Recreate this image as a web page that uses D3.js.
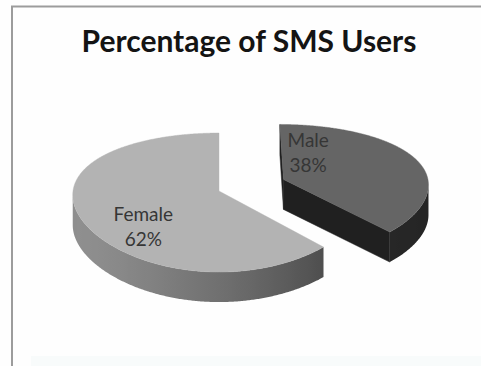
<!DOCTYPE html>
<html>
<head>
<meta charset="utf-8">
<script src="https://cdn.jsdelivr.net/npm/d3@7"></script>
<style>
  html, body { margin: 0; padding: 0; background: #ffffff; }
  svg { display: block; }
</style>
</head>
<body>
<script>
// ---- data ----
const categories = ["Male", "Female"];
const shares = [38, 62];
const chartTitle = "Percentage of SMS Users";

// ---- layout ----
const W = 481, H = 366;
const explodedCategory = "Male";
const explodeDistance = 0.48;           // in pie radii
const topColors = { Male: "#656565", Female: "#b3b3b3" };
// where each label sits, as an angle (deg, clockwise from 12) and radius fraction from the slice centre
const labelSpots = { Male: { angle: 23, r: 0.48 }, Female: { angle: 226, r: 0.70 } };

// simple perspective for a tilted disc: u = right, w = away from viewer, h = 0 top / 1 bottom
const view = { cx: 219, cy: 191, rx: 146, ry: 67.6, kx: 0.06, ky: 0.166, depth: 30 };
function project(u, w, h) {
  return [view.cx + view.rx * u / (1 + view.kx * w),
          view.cy - view.ry * w / (1 + view.ky * w) + h * view.depth];
}

const svg = d3.select("body").append("svg").attr("width", W).attr("height", H);
const defs = svg.append("defs");

// background and frame
svg.append("rect").attr("width", W).attr("height", H).attr("fill", "#fefefe");
svg.append("rect").attr("x", 31).attr("y", 356).attr("width", W - 31).attr("height", 10).attr("fill", "#f8fbfb");
svg.append("path").attr("d", `M12,${H}V6.5H${W}`)
  .attr("fill", "none").attr("stroke", "#9c9c9c").attr("stroke-width", 2);

// title
svg.append("text")
  .attr("x", 249).attr("y", 52)
  .attr("text-anchor", "middle")
  .attr("font-family", "Lato, 'Open Sans', sans-serif")
  .attr("font-weight", 700)
  .attr("font-size", 30)
  .attr("fill", "#141414")
  .text(chartTitle);

// slice angles
const pie = d3.pie().sort(null).value(d => d.value).startAngle(0).endAngle(2 * Math.PI);
const slices = pie(categories.map((c, i) => ({ category: c, value: shares[i] })));

// rim lightness of the light slice, by the outward normal angle
const lightSide = th => 97 + 43 * (-Math.sin(th)) - 15 * Math.cos(th);
function sideFill(cat, th) {
  const v = cat === "Male"
    ? Math.round(36 + 0.12 * (lightSide(th) - 54))
    : Math.round(lightSide(th));
  return d3.rgb(v, v, v).formatHex();
}

function signedArea(pts) {
  let s = 0;
  for (let i = 0; i < pts.length; i++) {
    const a = pts[i], b = pts[(i + 1) % pts.length];
    s += a[0] * b[1] - b[0] * a[1];
  }
  return s / 2;
}

const line = d3.line().curve(d3.curveLinearClosed);
const g = svg.append("g");

slices.slice().reverse().forEach(s => {
  const cat = s.data.category;
  const mid = (s.startAngle + s.endAngle) / 2;
  const e = cat === explodedCategory ? explodeDistance : 0;
  const ou = e * Math.sin(mid), ow = e * Math.cos(mid);
  const rim = (th, h) => project(ou + Math.sin(th), ow + Math.cos(th), h);
  const ctr = h => project(ou, ow, h);

  const n = Math.ceil((s.endAngle - s.startAngle) / (Math.PI / 360));
  const angs = d3.range(n + 1).map(i => s.startAngle + (s.endAngle - s.startAngle) * i / n);

  const sg = g.append("g").attr("class", "slice-" + cat);

  // radial cut faces
  const faces = [
    { pts: [ctr(0), rim(s.startAngle, 0), rim(s.startAngle, 1), ctr(1)], th: s.startAngle - Math.PI / 2 },
    { pts: [rim(s.endAngle, 0), ctr(0), ctr(1), rim(s.endAngle, 1)], th: s.endAngle + Math.PI / 2 }
  ];
  faces.forEach(f => {
    if (signedArea(f.pts) < 0) {
      const c = cat === "Male" ? "#202020" : sideFill(cat, f.th);
      sg.append("path").attr("d", line(f.pts)).attr("fill", c).attr("stroke", c).attr("stroke-width", 0.5);
    }
  });

  // outer rim band: the run of rim segments that face the viewer, shaded with a gradient
  const vis = [];
  for (let i = 0; i < n; i++) {
    const q = [rim(angs[i], 0), rim(angs[i + 1], 0), rim(angs[i + 1], 1), rim(angs[i], 1)];
    if (signedArea(q) < 0) vis.push(i);
  }
  if (vis.length) {
    const a0 = vis[0], a1 = vis[vis.length - 1] + 1;
    const run = angs.slice(a0, a1 + 1);
    const band = run.map(a => rim(a, 0)).concat(run.slice().reverse().map(a => rim(a, 1)));
    const xs = run.map(a => rim(a, 0)[0]);
    const xmin = d3.min(xs), xmax = d3.max(xs);
    const gid = "band-" + cat;
    const grad = defs.append("linearGradient").attr("id", gid)
      .attr("gradientUnits", "userSpaceOnUse")
      .attr("x1", xmin).attr("y1", 0).attr("x2", xmax).attr("y2", 0);
    run.map(a => ({ o: (rim(a, 0)[0] - xmin) / (xmax - xmin), c: sideFill(cat, a) }))
      .sort((p, q) => p.o - q.o)
      .filter((d, i) => i % 6 === 0)
      .forEach(d => grad.append("stop").attr("offset", d.o).attr("stop-color", d.c));
    sg.append("path").attr("d", line(band)).attr("fill", `url(#${gid})`);
  }

  // top face
  const top = [ctr(0)].concat(angs.map(a => rim(a, 0)));
  sg.append("path").attr("d", line(top))
    .attr("fill", topColors[cat]).attr("stroke", topColors[cat]).attr("stroke-width", 0.4);

  // label
  const spot = labelSpots[cat];
  const la = spot.angle * Math.PI / 180;
  const [lx, ly] = project(ou + spot.r * Math.sin(la), ow + spot.r * Math.cos(la), 0);
  const t = sg.append("text")
    .attr("text-anchor", "middle")
    .attr("font-family", "Lato, 'Open Sans', sans-serif")
    .attr("font-size", 19)
    .attr("fill", "#363636");
  t.append("tspan").attr("x", lx).attr("y", ly - 6).text(cat);
  t.append("tspan").attr("x", lx).attr("y", ly + 19).text(d3.format(".0f")(s.data.value) + "%");
});
</script>
</body>
</html>
